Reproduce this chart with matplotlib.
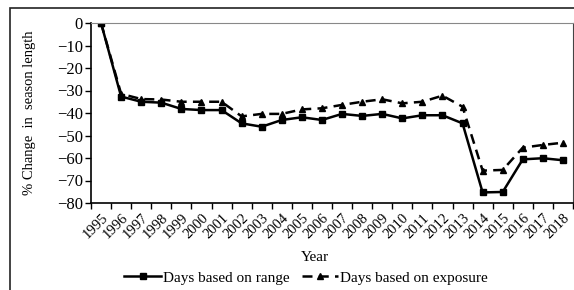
import matplotlib
matplotlib.use("Agg")
import matplotlib.pyplot as plt
from matplotlib.patches import Rectangle

plt.rcParams['font.family'] = ['Liberation Serif', 'DejaVu Serif']

years = list(range(1995, 2019))
days_range = [0, -32.7, -35.0, -35.4, -38.2, -38.7, -38.7, -44.6, -46.1, -43.1,
              -41.9, -43.1, -40.4, -41.3, -40.4, -42.4, -41.0, -41.0, -44.6,
              -75.3, -75.1, -60.6, -60.1, -61.0]
days_exposure = [0, -31.5, -33.8, -34.0, -35.0, -35.0, -35.0, -41.5, -40.4, -40.4,
                 -38.4, -37.9, -36.4, -35.0, -33.9, -35.7, -35.0, -32.3, -37.2,
                 -65.6, -65.3, -55.4, -54.2, -53.2]

fig = plt.figure(figsize=(5.74, 2.9), dpi=100)
ax = fig.add_axes([91/574, 1-203/290, 482/574, 180/290])

x = list(range(len(years)))
ax.plot(x, days_range, color="black", lw=1.8, marker="s", ms=4.5,
        label="Days based on range")
ax.plot(x, days_exposure, color="black", lw=1.8, ls=(0, (4, 2.5)), marker="^", ms=5,
        label="Days based on exposure")

ax.set_xlim(-0.5, len(years)-0.5)
ax.set_ylim(-80, 0)
ax.set_yticks(range(-80, 1, 10))
ax.tick_params(axis="y", direction="out", length=4, width=1, labelsize=12, pad=2)

ax.set_xticks(x)
ax.set_xticklabels([str(y) for y in years], rotation=45, ha="right",
                   rotation_mode="anchor", fontsize=10.5)
ax.tick_params(axis="x", which="major", length=0, pad=6)
ax.set_xticks([i-0.5 for i in range(len(years)+1)], minor=True)
ax.tick_params(axis="x", which="minor", direction="out", length=4, width=1)

for s in ["left", "bottom"]:
    ax.spines[s].set_color("black")
    ax.spines[s].set_linewidth(1.2)
ax.spines["top"].set_color("#888888")
ax.spines["right"].set_color("#444444")

ax.set_ylabel("% Change  in  season length", fontsize=10.5)
ax.yaxis.set_label_coords(-0.115, 0.5)
ax.set_xlabel("Year", fontsize=11)
ax.xaxis.set_label_coords(0.465, -0.265)

ax.legend(loc="center", bbox_to_anchor=(0.446, -0.415), ncol=2, frameon=False,
          fontsize=11, handlelength=2.4, handletextpad=0.1, columnspacing=0.8)

fig.patches.append(Rectangle((10/574, -0.1), 1.2, 1-8/290+0.1, transform=fig.transFigure,
                             fill=False, edgecolor="#222222", lw=1.2))

fig.savefig("out.png", dpi=100)
